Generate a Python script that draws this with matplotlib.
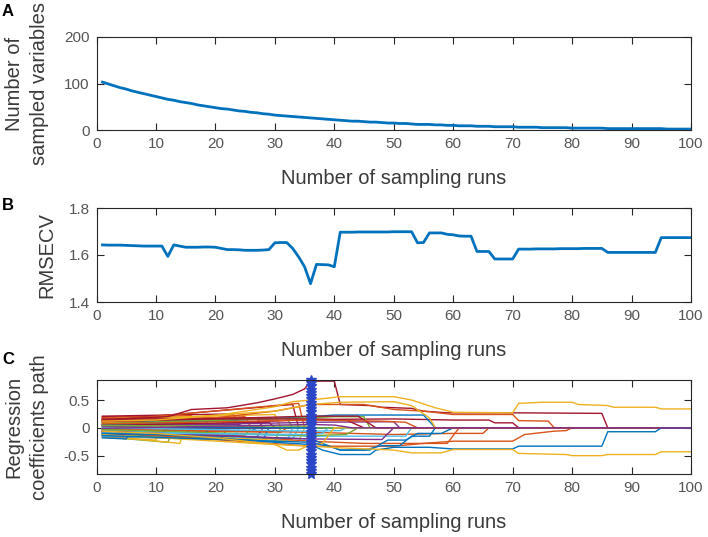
import numpy as np
import matplotlib
matplotlib.use("Agg")
import matplotlib.pyplot as plt

plt.rcParams['font.family'] = ['Liberation Sans', 'DejaVu Sans']

# ---------------- data ----------------
runs = list(range(1, 101))

n_sampled_vars = [103, 99, 95, 91, 88, 84, 81, 78, 75, 72,
                  69, 66, 64, 61, 59, 57, 54, 52, 50, 48,
                  46, 45, 43, 41, 40, 38, 37, 35, 34, 32,
                  31, 30, 29, 28, 27, 26, 25, 24, 23, 22,
                  21, 20, 19, 19, 18, 17, 17, 16, 15, 15,
                  14, 14, 13, 12, 12, 12, 11, 11, 10, 10,
                  9, 9, 9, 8, 8, 8, 7, 7, 7, 7,
                  6, 6, 6, 6, 5, 5, 5, 5, 5, 4,
                  4, 4, 4, 4, 4, 3, 3, 3, 3, 3,
                  3, 3, 3, 3, 3, 2, 2, 2, 2, 2]

rmsecv = [1.643, 1.642, 1.642, 1.642, 1.641, 1.640, 1.639, 1.638, 1.638, 1.638,
          1.638, 1.594, 1.643, 1.638, 1.633, 1.633, 1.633, 1.634, 1.634, 1.633,
          1.628, 1.623, 1.623, 1.622, 1.620, 1.620, 1.620, 1.621, 1.623, 1.652,
          1.653, 1.653, 1.628, 1.592, 1.550, 1.478, 1.560, 1.559, 1.558, 1.550,
          1.697, 1.697, 1.697, 1.698, 1.698, 1.698, 1.698, 1.698, 1.698, 1.699,
          1.699, 1.699, 1.699, 1.652, 1.653, 1.694, 1.694, 1.694, 1.688, 1.686,
          1.681, 1.680, 1.680, 1.615, 1.615, 1.615, 1.583, 1.583, 1.583, 1.583,
          1.625, 1.625, 1.625, 1.626, 1.626, 1.626, 1.626, 1.627, 1.627, 1.627,
          1.627, 1.628, 1.628, 1.628, 1.628, 1.611, 1.611, 1.611, 1.611, 1.611,
          1.611, 1.611, 1.611, 1.611, 1.674, 1.674, 1.674, 1.674, 1.674, 1.674]

best_run = 36

# early-eliminated coefficient paths: (colour code, value at run 1,
# value just before elimination, elimination run)
early_paths = [
    ('r', 0.20, 0.18, 8), ('r', 0.19, 0.22, 14), ('r', 0.18, 0.15, 5),
    ('r', 0.17, 0.20, 19), ('r', 0.16, 0.12, 11), ('r', 0.21, 0.25, 24),
    ('r', 0.15, 0.18, 28), ('r', 0.14, 0.10, 3), ('o', 0.18, 0.22, 17),
    ('o', 0.13, 0.16, 9), ('o', 0.12, 0.20, 26), ('y', 0.16, 0.24, 31),
    ('y', 0.10, 0.08, 6), ('y', 0.11, 0.15, 21), ('g', 0.09, 0.12, 13),
    ('g', 0.07, 0.05, 4), ('g', 0.12, 0.18, 33), ('c', 0.08, 0.10, 16),
    ('b', 0.10, 0.13, 22), ('p', 0.06, 0.04, 7), ('p', 0.05, 0.08, 15),
    ('p', 0.04, 0.06, 25), ('r', 0.13, 0.42, 34), ('o', 0.12, 0.44, 35),
    ('b', 0.03, 0.02, 10), ('c', 0.02, 0.04, 12), ('o', 0.01, -0.02, 18),
    ('y', 0.00, 0.03, 23), ('g', -0.01, -0.04, 20), ('p', -0.02, 0.02, 29),
    ('r', 0.05, 0.10, 30), ('b', -0.03, -0.06, 27), ('o', -0.04, -0.08, 32),
    ('c', -0.05, -0.03, 8), ('c', -0.10, -0.14, 14), ('c', -0.12, -0.18, 24),
    ('c', -0.14, -0.20, 34), ('b', -0.11, -0.16, 19), ('b', -0.13, -0.15, 9),
    ('b', -0.15, -0.22, 29), ('b', -0.09, -0.12, 5), ('g', -0.12, -0.20, 17),
    ('g', -0.16, -0.26, 13), ('g', -0.10, -0.13, 26), ('y', -0.14, -0.28, 15),
    ('y', -0.17, -0.22, 11), ('y', -0.08, -0.24, 35), ('o', -0.06, -0.10, 7),
    ('o', -0.16, -0.20, 22), ('o', -0.07, -0.12, 3), ('p', -0.08, -0.10, 16),
    ('p', -0.11, -0.16, 28), ('r', -0.06, -0.08, 12), ('g', -0.13, -0.24, 31),
    ('c', -0.15, -0.25, 33), ('b', -0.18, -0.20, 6),
]

# long-lived coefficient paths: colour code, [(run, coefficient), ...]
late_paths = [
    ('r', [(1, 0.14), (12, 0.20), (16, 0.33), (22, 0.36), (27, 0.45), (30, 0.52),
           (33, 0.60), (35, 0.70), (36, 0.84), (40, 0.84), (41, 0.42), (46, 0.40),
           (48, 0.37), (53, 0.35), (55, 0.30), (59, 0.27), (70, 0.27), (85, 0.26),
           (86, 0.0)]),
    ('o', [(1, -0.04), (20, -0.12), (36, -0.24), (45, -0.28), (55, -0.28),
           (60, -0.24), (70, -0.24), (72, -0.12), (77, -0.06), (79, -0.05), (80, 0.0)]),
    ('o', [(1, 0.10), (20, 0.18), (30, 0.30), (36, 0.42), (45, 0.42), (50, 0.33),
           (55, 0.30), (60, 0.24), (70, 0.24), (71, 0.13), (76, 0.12), (77, 0.0)]),
    ('r', [(1, 0.05), (20, 0.08), (36, 0.15), (50, 0.16), (60, 0.14), (66, 0.14),
           (67, 0.09), (70, 0.09), (71, 0.0)]),
    ('o', [(1, -0.02), (36, -0.08), (50, -0.12), (60, -0.10), (65, -0.10), (66, 0.0)]),
    ('b', [(1, 0.06), (20, 0.12), (36, 0.20), (40, 0.23), (55, 0.23), (57, 0.0)]),
    ('g', [(1, 0.08), (36, 0.18), (40, 0.20), (45, 0.20), (46, 0.0)]),
    ('p', [(1, 0.02), (36, 0.10), (50, 0.11), (51, 0.0)]),
    ('c', [(1, -0.05), (36, -0.15), (52, -0.15), (53, 0.0)]),
    ('b', [(1, -0.08), (36, -0.20), (41, -0.40), (46, -0.40), (49, -0.22), (52, -0.22),
           (54, -0.10), (58, -0.10), (60, 0.0)]),
    ('p', [(1, -0.06), (36, -0.20), (48, -0.21), (50, 0.0)]),
    ('g', [(1, -0.03), (36, -0.14), (42, -0.12), (44, 0.0)]),
    ('y', [(1, 0.09), (30, 0.30), (36, 0.42), (41, 0.46), (50, 0.47), (53, 0.40),
           (56, 0.18), (57, 0.0)]),
    ('r', [(1, 0.16), (36, 0.16), (42, 0.14), (45, 0.0)]),
    ('o', [(1, -0.07), (36, -0.33), (50, -0.33), (55, -0.28), (59, -0.28), (61, 0.0)]),
    ('c', [(1, -0.09), (36, -0.12), (38, -0.10), (39, 0.0)]),
    ('g', [(1, 0.04), (36, 0.03), (37, 0.0)]),
    ('c', [(1, 0.00), (36, -0.06), (41, -0.05), (42, 0.0)]),
    ('y', [(1, -0.12), (30, -0.30), (32, -0.40), (34, -0.40), (36, -0.30), (38, -0.28),
           (40, 0.0)]),
    ('b', [(1, -0.14), (36, -0.26), (40, -0.36), (41, -0.40), (45, -0.40), (48, -0.32),
           (51, -0.32), (53, -0.15), (56, -0.15), (57, 0.0)]),
    ('r', [(1, 0.11), (36, 0.21), (44, 0.21), (47, 0.0)]),
    ('o', [(1, 0.07), (36, 0.14), (48, 0.12), (52, 0.10), (54, 0.0)]),
    ('b', [(1, -0.10), (10, -0.12), (20, -0.18), (30, -0.26), (36, -0.30), (38, -0.40),
           (41, -0.48), (46, -0.48), (47, -0.40), (50, -0.35), (56, -0.35), (60, -0.38),
           (70, -0.38), (71, -0.33), (85, -0.33), (86, -0.07), (94, -0.07), (95, 0.0)]),
    ('y', [(1, -0.06), (10, -0.10), (20, -0.18), (30, -0.30), (36, -0.33), (41, -0.36),
           (46, -0.38), (50, -0.40), (53, -0.45), (58, -0.45), (60, -0.39), (70, -0.39),
           (71, -0.46), (79, -0.48), (80, -0.50), (85, -0.50), (86, -0.48), (94, -0.48),
           (95, -0.43), (100, -0.43)]),
    ('y', [(1, 0.12), (10, 0.14), (20, 0.22), (30, 0.38), (33, 0.47), (36, 0.50),
           (41, 0.56), (50, 0.56), (53, 0.50), (57, 0.36), (60, 0.28), (70, 0.27),
           (71, 0.44), (75, 0.46), (80, 0.46), (81, 0.42), (86, 0.40), (87, 0.37),
           (94, 0.37), (95, 0.34), (100, 0.34)]),
    ('p', [(1, -0.01), (36, 0.06), (40, 0.05), (43, 0.0)]),
]

x_ticks = list(range(0, 101, 10))
a_yticks = [0, 100, 200]
b_yticks = [1.4, 1.6, 1.8]
c_yticks = [-0.5, 0, 0.5]

# ---------------- style ----------------
palette = {'b': '#0072BD', 'o': '#D95319', 'y': '#EDB120', 'p': '#7E2F8E',
           'g': '#77AC30', 'c': '#4DBEEE', 'r': '#A2142F'}
axis_col = '#262626'
tick_text_col = '#555555'
label_col = '#3a3a3a'
LABEL_FS = 14.5
TICK_FS = 11

W, H = 708, 537
fig = plt.figure(figsize=(W / 100, H / 100), dpi=100)

left, right = 96.5, 691
def add_ax(top, bottom):
    return fig.add_axes([left / W, 1 - bottom / H, (right - left) / W, (bottom - top) / H])

axA = add_ax(37, 130)
axB = add_ax(208, 302)
axC = add_ax(380, 474)

def style(ax, ylabel, ylab_x, yticks, ylim):
    ax.set_xlim(0, 100)
    ax.set_ylim(*ylim)
    ax.set_xticks(x_ticks)
    ax.set_yticks(yticks)
    ax.set_yticklabels([('%g' % t) for t in yticks])
    ax.tick_params(direction='in', top=True, right=True, length=5, width=0.8,
                   colors=axis_col, labelcolor=tick_text_col, labelsize=TICK_FS, pad=5)
    for s in ax.spines.values():
        s.set_color(axis_col)
        s.set_linewidth(0.8)
    ax.set_xlabel('Number of sampling runs', fontsize=LABEL_FS, color=label_col, va='center')
    ax.xaxis.set_label_coords(0.5, -49 / 94)
    ax.set_ylabel(ylabel, fontsize=LABEL_FS, color=label_col, va='center',
                  multialignment='center', linespacing=1.45)
    ax.yaxis.set_label_coords((ylab_x - left) / (right - left), 0.5)

# Panel A
axA.plot(runs, n_sampled_vars, color=palette['b'], lw=2.0)
style(axA, 'Number of\nsampled variables', 27, a_yticks, (0, 200))

# Panel B
axB.plot(runs, rmsecv, color=palette['b'], lw=2.0)
style(axB, 'RMSECV', 47, b_yticks, (1.4, 1.8))

# Panel C
c_ylim = (-0.83, 0.86)
for code, v0, v1, end in early_paths:
    xs = [1, end - 1, end, 100]
    ys = [v0, v1, 0.0, 0.0]
    axC.plot(xs, ys, color=palette[code], lw=1.0)
for code, pts in late_paths:
    xs = [p[0] for p in pts]
    ys = [p[1] for p in pts]
    if xs[-1] < 100:
        xs.append(100)
        ys.append(0.0)
    axC.plot(xs, ys, color=palette[code], lw=1.0)
marker_y = np.linspace(c_ylim[0], c_ylim[1], 30)
axC.plot([best_run] * len(marker_y), marker_y, '-*', color='#2B47C8',
         lw=1.2, ms=7, mew=1.0, clip_on=False)
style(axC, 'Regression\ncoefficients path', 27, c_yticks, c_ylim)

# Panel letters
for letter, (px, py) in zip('ABC', [(7.5, 11.5), (8, 205.5), (8, 359.5)]):
    fig.text(px / W, 1 - py / H, letter, fontsize=12, fontweight='bold',
             ha='center', va='center', color='black')

fig.savefig('out.png', dpi=100)
